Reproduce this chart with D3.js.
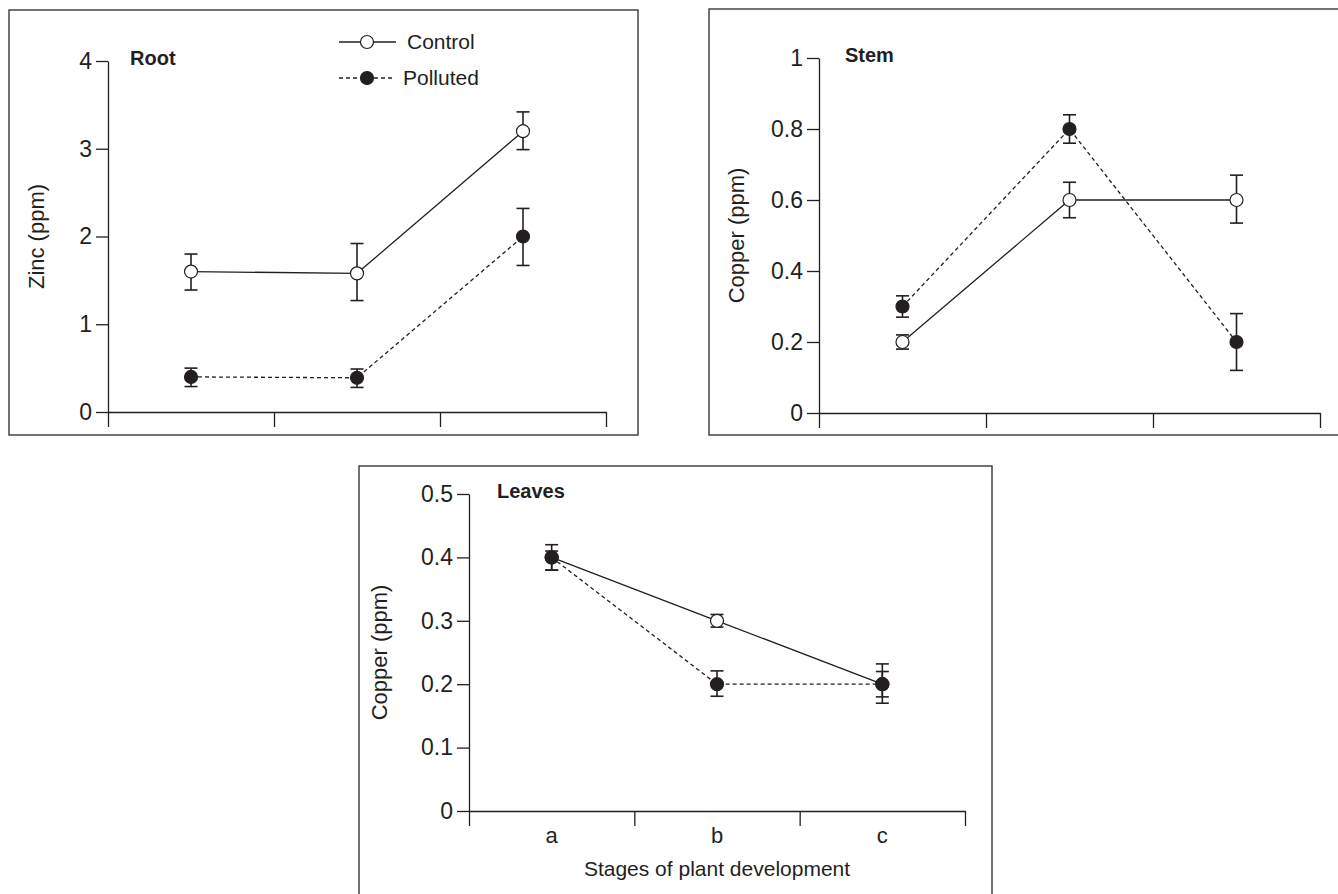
<!DOCTYPE html>
<html>
<head>
<meta charset="utf-8">
<script src="https://cdn.jsdelivr.net/npm/d3@7"></script>
<style>
  html, body { margin: 0; padding: 0; background: #fff; }
  svg { display: block; }
  text { font-family: "Liberation Sans", Arial, Helvetica, sans-serif; fill: #231f20; }
</style>
</head>
<body>
<svg id="chart" width="1338" height="894"></svg>
<script>
// ---- Data ----
const stages = ["a", "b", "c"];
const seriesNames = ["Control", "Polluted"];

const rootControl = [1.6, 1.58, 3.2];
const rootControlLo = [1.39, 1.27, 2.99];
const rootControlHi = [1.8, 1.92, 3.42];
const rootPolluted = [0.4, 0.39, 2.0];
const rootPollutedLo = [0.29, 0.28, 1.67];
const rootPollutedHi = [0.5, 0.49, 2.32];
const rootTicks = [0, 1, 2, 3, 4];

const stemControl = [0.2, 0.6, 0.6];
const stemControlLo = [0.18, 0.55, 0.535];
const stemControlHi = [0.22, 0.65, 0.67];
const stemPolluted = [0.3, 0.8, 0.2];
const stemPollutedLo = [0.27, 0.76, 0.12];
const stemPollutedHi = [0.33, 0.84, 0.28];
const stemTicks = [0, 0.2, 0.4, 0.6, 0.8, 1];

const leavesControl = [0.4, 0.3, 0.2];
const leavesControlLo = [0.38, 0.29, 0.18];
const leavesControlHi = [0.42, 0.31, 0.232];
const leavesPolluted = [0.4, 0.2, 0.2];
const leavesPollutedLo = [0.38, 0.181, 0.17];
const leavesPollutedHi = [0.41, 0.221, 0.22];
const leavesTicks = [0, 0.1, 0.2, 0.3, 0.4, 0.5];

// ---- Drawing ----
const svg = d3.select("#chart");
const ink = "#231f20";

function mk(vals, lo, hi) {
  return vals.map((v, i) => ({ i, v, lo: lo[i], hi: hi[i] }));
}

function panel(cfg) {
  const g = svg.append("g");
  g.append("rect")
    .attr("x", cfg.box[0]).attr("y", cfg.box[1])
    .attr("width", cfg.box[2] - cfg.box[0]).attr("height", cfg.box[3] - cfg.box[1])
    .attr("fill", "none").attr("stroke", "#444").attr("stroke-width", 1.5);

  const y = d3.scaleLinear().domain([0, cfg.yMax]).range([cfg.y0, cfg.yTop]);
  const x = d3.scaleLinear().domain([0, stages.length]).range([cfg.x0, cfg.x1]);

  const ya = g.append("g").attr("transform", `translate(${cfg.x0},0)`)
    .call(d3.axisLeft(y).tickValues(cfg.ticks).tickFormat(d => String(+d.toFixed(2)))
      .tickSize(12).tickSizeOuter(0).tickPadding(4));
  ya.attr("font-size", 23).attr("font-family", "Liberation Sans, Arial, sans-serif");
  ya.select(".domain").attr("stroke", ink).attr("stroke-width", 1.3);
  ya.selectAll(".tick line").attr("stroke", ink).attr("stroke-width", 1.3);
  ya.selectAll(".tick text").attr("fill", ink);

  const xa = g.append("g").attr("transform", `translate(0,${cfg.y0})`)
    .call(d3.axisBottom(x).tickValues(d3.range(stages.length + 1)).tickFormat("")
      .tickSize(15).tickSizeOuter(0));
  xa.select(".domain").attr("stroke", ink).attr("stroke-width", 1.3);
  xa.selectAll(".tick line").attr("stroke", ink).attr("stroke-width", 1.3);

  if (cfg.showStages) {
    g.selectAll(".stage").data(stages).enter().append("text")
      .attr("x", (d, i) => x(i + 0.5)).attr("y", cfg.y0 + 32)
      .attr("text-anchor", "middle").attr("font-size", 22).text(d => d);
    g.append("text").attr("x", x(stages.length / 2)).attr("y", cfg.y0 + 65)
      .attr("text-anchor", "middle").attr("font-size", 21).text(cfg.xLabel);
  }

  g.append("text")
    .attr("transform", `translate(${cfg.yLabelX},${(cfg.y0 + cfg.yTop) / 2}) rotate(-90)`)
    .attr("text-anchor", "middle").attr("font-size", 22).text(cfg.yLabel);

  g.append("text").attr("x", cfg.titleX).attr("y", cfg.yTop + 4)
    .attr("font-size", 20).attr("font-weight", "bold").text(cfg.title);

  const line = d3.line().x(d => x(d.i + 0.5)).y(d => y(d.v));

  const series = [
    { data: mk(...cfg.control), dash: null, fill: "#fff" },
    { data: mk(...cfg.polluted), dash: "4,3", fill: ink }
  ];
  series.forEach(s => {
    g.append("path").datum(s.data).attr("d", line)
      .attr("fill", "none").attr("stroke", ink).attr("stroke-width", 1.3)
      .attr("stroke-dasharray", s.dash);
  });
  series.forEach(s => {
    const eb = g.selectAll(null).data(s.data).enter().append("g").attr("stroke", ink).attr("stroke-width", 1.6);
    eb.append("line").attr("x1", d => x(d.i + 0.5)).attr("x2", d => x(d.i + 0.5))
      .attr("y1", d => y(d.lo)).attr("y2", d => y(d.hi));
    eb.append("line").attr("x1", d => x(d.i + 0.5) - 6.5).attr("x2", d => x(d.i + 0.5) + 6.5)
      .attr("y1", d => y(d.lo)).attr("y2", d => y(d.lo));
    eb.append("line").attr("x1", d => x(d.i + 0.5) - 6.5).attr("x2", d => x(d.i + 0.5) + 6.5)
      .attr("y1", d => y(d.hi)).attr("y2", d => y(d.hi));
  });
  series.forEach(s => {
    g.selectAll(null).data(s.data).enter().append("circle")
      .attr("cx", d => x(d.i + 0.5)).attr("cy", d => y(d.v)).attr("r", 6.5)
      .attr("fill", s.fill).attr("stroke", ink).attr("stroke-width", 1.2);
  });
  return g;
}

const rootG = panel({
  box: [9, 10, 638, 435], x0: 108, x1: 606, y0: 412, yTop: 61, yMax: 4, ticks: rootTicks,
  yLabel: "Zinc (ppm)", yLabelX: 44, title: "Root", titleX: 130,
  control: [rootControl, rootControlLo, rootControlHi],
  polluted: [rootPolluted, rootPollutedLo, rootPollutedHi]
});

panel({
  box: [709, 9, 1340, 435], x0: 819, x1: 1320, y0: 413, yTop: 58, yMax: 1, ticks: stemTicks,
  yLabel: "Copper (ppm)", yLabelX: 744, title: "Stem", titleX: 845,
  control: [stemControl, stemControlLo, stemControlHi],
  polluted: [stemPolluted, stemPollutedLo, stemPollutedHi]
});

panel({
  box: [359, 466, 992, 900], x0: 469, x1: 965, y0: 811, yTop: 494, yMax: 0.5, ticks: leavesTicks,
  yLabel: "Copper (ppm)", yLabelX: 387, title: "Leaves", titleX: 497,
  showStages: true, xLabel: "Stages of plant development",
  control: [leavesControl, leavesControlLo, leavesControlHi],
  polluted: [leavesPolluted, leavesPollutedLo, leavesPollutedHi]
});

const legendRows = [
  { name: seriesNames[0], y: 42, dash: null, fill: "#fff", x1: 339, x2: 396, cx: 367, tx: 407 },
  { name: seriesNames[1], y: 78, dash: "4,3", fill: ink, x1: 339, x2: 395, cx: 367, tx: 403 }
];
const lg = rootG.append("g");
legendRows.forEach(r => {
  lg.append("line").attr("x1", r.x1).attr("x2", r.x2).attr("y1", r.y).attr("y2", r.y)
    .attr("stroke", ink).attr("stroke-width", 1.3).attr("stroke-dasharray", r.dash);
  lg.append("circle").attr("cx", r.cx).attr("cy", r.y).attr("r", 6.5)
    .attr("fill", r.fill).attr("stroke", ink).attr("stroke-width", 1.2);
  lg.append("text").attr("x", r.tx).attr("y", r.y + 7).attr("font-size", 21).text(r.name);
});
</script>
</body>
</html>
